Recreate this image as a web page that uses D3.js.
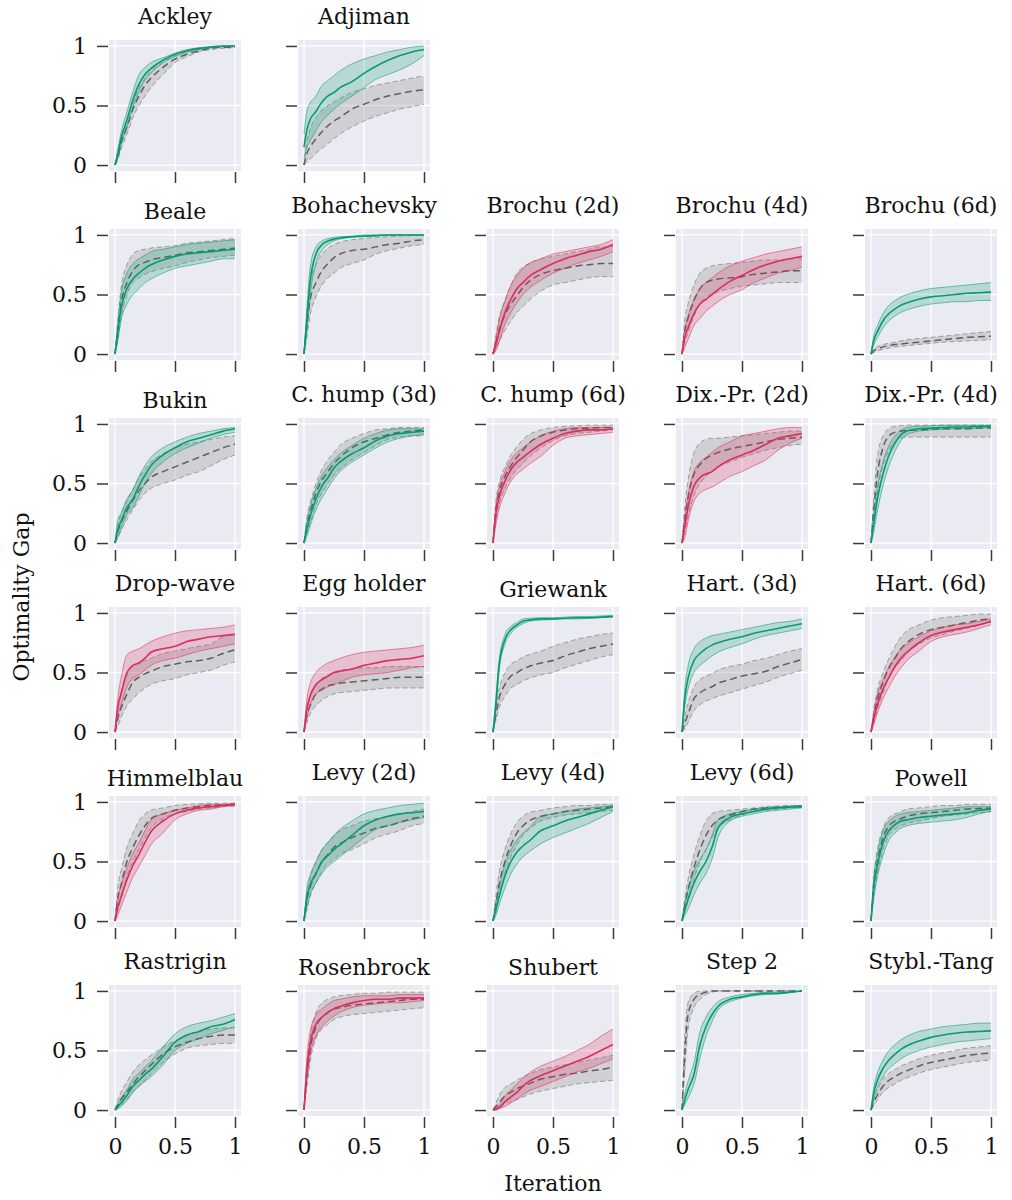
<!DOCTYPE html>
<html>
<head>
<meta charset="utf-8">
<script src="https://cdn.jsdelivr.net/npm/d3@7"></script>
<style>
  body { margin: 0; background: #fff; }
  svg text { font-family: "DejaVu Serif", serif; fill: #111; }
</style>
</head>
<body>
<script>
const iterGrid = [0, .025, .05, .1, .15, .2, .25, .3, .4, .5, .6, .7, .8, .9, 1]

const titles = ["Ackley", "Adjiman",
  "Beale", "Bohachevsky", "Brochu (2d)", "Brochu (4d)", "Brochu (6d)",
  "Bukin", "C. hump (3d)", "C. hump (6d)", "Dix.-Pr. (2d)", "Dix.-Pr. (4d)",
  "Drop-wave", "Egg holder", "Griewank", "Hart. (3d)", "Hart. (6d)",
  "Himmelblau", "Levy (2d)", "Levy (4d)", "Levy (6d)", "Powell",
  "Rastrigin", "Rosenbrock", "Shubert", "Step 2", "Stybl.-Tang"]

// g = proposed method better (green), r = worse (red)
const verdict = ["g", "g",
  "g", "g", "r", "r", "g",
  "g", "g", "r", "r", "g",
  "r", "r", "g", "g", "r",
  "r", "g", "g", "g", "g",
  "g", "r", "r", "g", "g"]

const methodMean = [
  [0, .1, .22, .38, .55, .68, .76, .81, .88, .93, .96, .98, .99, 1, 1],
  [.15, .3, .38, .45, .53, .58, .61, .65, .7, .77, .83, .88, .92, .95, .97],
  [0, .2, .38, .55, .63, .68, .72, .75, .79, .82, .84, .85, .86, .87, .88],
  [0, .3, .6, .84, .92, .95, .965, .975, .985, .99, .995, 1, 1, 1, 1],
  [0, .08, .18, .35, .46, .55, .6, .65, .71, .76, .8, .83, .86, .88, .92],
  [0, .15, .22, .34, .42, .46, .5, .54, .61, .66, .71, .75, .78, .8, .82],
  [0, .12, .18, .28, .34, .38, .41, .43, .46, .48, .49, .5, .51, .515, .52],
  [0, .12, .18, .3, .37, .48, .57, .65, .74, .8, .85, .88, .91, .94, .96],
  [0, .12, .22, .37, .48, .55, .63, .68, .75, .8, .86, .9, .92, .93, .94],
  [0, .25, .38, .52, .62, .68, .72, .76, .83, .88, .92, .94, .95, .95, .96],
  [0, .15, .3, .48, .55, .58, .6, .64, .7, .74, .78, .83, .88, .9, .92],
  [0, .18, .35, .58, .74, .84, .91, .94, .96, .965, .97, .975, .975, .98, .98],
  [0, .22, .32, .5, .56, .58, .62, .67, .7, .72, .76, .78, .8, .81, .82],
  [0, .2, .3, .4, .44, .47, .5, .51, .53, .56, .58, .6, .61, .62, .64],
  [0, .25, .55, .78, .86, .9, .93, .94, .95, .95, .955, .96, .96, .965, .97],
  [0, .3, .45, .6, .66, .7, .73, .75, .78, .8, .83, .85, .87, .89, .91],
  [0, .12, .22, .36, .46, .55, .62, .67, .75, .81, .84, .86, .88, .9, .93],
  [0, .12, .2, .35, .47, .56, .66, .75, .84, .9, .93, .95, .96, .97, .98],
  [0, .2, .3, .4, .5, .55, .6, .64, .72, .8, .85, .88, .9, .91, .92],
  [0, .1, .2, .38, .5, .58, .63, .67, .76, .8, .84, .87, .9, .93, .96],
  [0, .1, .18, .32, .42, .5, .62, .78, .87, .9, .92, .94, .95, .955, .96],
  [0, .3, .45, .66, .76, .81, .84, .85, .87, .88, .89, .9, .91, .93, .94],
  [0, .03, .06, .125, .2, .25, .3, .34, .45, .57, .63, .66, .7, .72, .76],
  [0, .35, .55, .72, .78, .82, .85, .87, .9, .92, .93, .93, .94, .94, .94],
  [0, .01, .02, .07, .11, .15, .2, .24, .29, .33, .37, .41, .45, .5, .55],
  [0, .09, .17, .3, .55, .7, .8, .87, .93, .95, .97, .98, .98, .99, 1],
  [0, .15, .24, .35, .42, .47, .51, .54, .58, .61, .63, .645, .655, .66, .665]
]
const methodLo = [
  [0, .06, .17, .32, .49, .62, .71, .77, .86, .91, .95, .97, .985, .995, 1],
  [.05, .15, .2, .29, .37, .42, .47, .51, .58, .65, .72, .76, .8, .85, .92],
  [0, .12, .28, .42, .5, .55, .6, .63, .68, .72, .74, .76, .78, .8, .8],
  [0, .2, .48, .76, .87, .92, .95, .965, .98, .985, .99, .995, 1, 1, 1],
  [0, .03, .1, .25, .35, .43, .5, .55, .62, .68, .72, .76, .79, .82, .86],
  [0, .06, .12, .24, .3, .36, .4, .44, .5, .54, .6, .64, .68, .7, .73],
  [0, .08, .13, .22, .28, .32, .35, .37, .4, .42, .43, .44, .44, .45, .45],
  [0, .05, .12, .24, .3, .4, .5, .58, .68, .75, .8, .84, .88, .91, .93],
  [0, .06, .14, .28, .38, .46, .54, .6, .68, .74, .8, .85, .88, .9, .91],
  [0, .16, .28, .42, .52, .58, .62, .66, .73, .82, .88, .9, .91, .92, .93],
  [0, .05, .18, .35, .42, .45, .47, .5, .56, .6, .65, .7, .78, .84, .88],
  [0, .1, .25, .48, .65, .77, .86, .91, .94, .95, .955, .96, .96, .965, .97],
  [0, .14, .22, .38, .45, .48, .52, .56, .6, .62, .65, .68, .7, .72, .74],
  [0, .12, .22, .32, .35, .38, .4, .42, .46, .48, .49, .5, .52, .54, .55],
  [0, .2, .5, .74, .83, .88, .91, .93, .94, .945, .95, .95, .955, .96, .965],
  [0, .22, .36, .5, .56, .6, .64, .67, .71, .74, .78, .81, .83, .85, .87],
  [0, .07, .15, .28, .38, .47, .54, .6, .68, .76, .8, .82, .84, .87, .9],
  [0, .05, .12, .25, .37, .46, .55, .64, .74, .85, .9, .93, .94, .96, .97],
  [0, .12, .22, .32, .4, .46, .5, .54, .62, .7, .77, .8, .83, .85, .87],
  [0, .05, .13, .28, .4, .48, .54, .58, .65, .7, .74, .78, .82, .87, .92],
  [0, .05, .1, .22, .32, .4, .52, .7, .84, .88, .9, .92, .93, .94, .95],
  [0, .2, .35, .55, .68, .74, .78, .8, .82, .83, .84, .85, .87, .9, .92],
  [0, .01, .03, .08, .15, .2, .24, .28, .38, .5, .56, .6, .64, .67, .7],
  [0, .25, .45, .62, .7, .75, .79, .82, .86, .88, .89, .9, .9, .91, .92],
  [0, 0, .01, .03, .06, .09, .13, .16, .2, .24, .28, .32, .35, .39, .43],
  [0, .05, .1, .22, .44, .62, .74, .84, .91, .94, .96, .97, .975, .985, 1],
  [0, .1, .18, .28, .35, .39, .43, .46, .5, .53, .55, .57, .58, .59, .6]
]
const methodHi = [
  [0, .14, .27, .45, .62, .76, .82, .86, .9, .94, .97, .985, .995, 1, 1],
  [.26, .46, .52, .58, .67, .71, .75, .79, .85, .89, .92, .95, .97, .99, 1],
  [0, .28, .5, .68, .76, .8, .83, .86, .88, .9, .92, .93, .94, .95, .96],
  [0, .4, .72, .9, .95, .97, .98, .985, .99, 1, 1, 1, 1, 1, 1],
  [0, .14, .28, .45, .58, .66, .72, .76, .8, .84, .86, .88, .9, .92, .96],
  [0, .22, .32, .46, .55, .6, .64, .68, .74, .78, .81, .84, .86, .88, .9],
  [0, .16, .23, .34, .41, .45, .48, .5, .53, .55, .56, .57, .58, .59, .6],
  [0, .2, .25, .37, .45, .56, .65, .72, .8, .85, .89, .92, .94, .96, .97],
  [0, .18, .3, .46, .57, .64, .7, .75, .82, .88, .92, .95, .96, .96, .96],
  [0, .32, .46, .6, .7, .76, .8, .84, .9, .94, .96, .97, .97, .97, .97],
  [0, .22, .4, .6, .68, .72, .76, .8, .85, .9, .92, .94, .96, .97, .97],
  [0, .25, .45, .68, .82, .9, .95, .97, .98, .985, .99, .99, .99, .99, .99],
  [0, .3, .45, .65, .68, .7, .73, .76, .8, .83, .85, .86, .87, .88, .9],
  [0, .28, .4, .5, .55, .58, .6, .62, .65, .67, .68, .69, .7, .71, .73],
  [0, .3, .6, .82, .89, .92, .95, .955, .96, .96, .965, .97, .97, .975, .98],
  [0, .38, .55, .7, .76, .79, .81, .82, .84, .86, .88, .9, .92, .93, .95],
  [0, .17, .3, .44, .55, .63, .7, .74, .8, .85, .88, .9, .91, .93, .95],
  [0, .2, .3, .45, .57, .66, .76, .85, .9, .93, .95, .97, .98, .98, .99],
  [0, .28, .38, .5, .6, .66, .72, .77, .84, .9, .93, .95, .97, .98, .99],
  [0, .15, .28, .48, .6, .68, .74, .78, .88, .9, .92, .94, .95, .96, .97],
  [0, .16, .26, .42, .52, .6, .72, .85, .9, .92, .94, .95, .96, .965, .97],
  [0, .38, .55, .76, .84, .88, .9, .91, .92, .93, .94, .95, .96, .96, .96],
  [0, .05, .1, .17, .26, .31, .36, .41, .53, .64, .7, .73, .75, .78, .81],
  [0, .45, .65, .8, .85, .89, .92, .93, .95, .96, .96, .96, .97, .97, .97],
  [0, .02, .04, .12, .17, .22, .27, .31, .37, .41, .45, .5, .55, .62, .68],
  [0, .14, .24, .4, .66, .78, .86, .91, .95, .97, .98, .99, .99, .99, 1],
  [0, .2, .3, .42, .5, .55, .59, .62, .66, .68, .7, .71, .72, .73, .73]
]

const baseMean = [
  [0, .08, .18, .32, .47, .58, .67, .73, .82, .89, .93, .96, .98, .99, .99],
  [0, .1, .15, .22, .28, .33, .37, .4, .47, .51, .55, .58, .6, .62, .63],
  [0, .22, .42, .6, .7, .75, .77, .79, .81, .83, .85, .86, .87, .88, .89],
  [0, .25, .45, .6, .7, .76, .81, .84, .87, .88, .9, .92, .93, .95, .96],
  [0, .1, .2, .33, .42, .49, .56, .61, .67, .7, .72, .74, .75, .76, .76],
  [0, .2, .3, .45, .55, .6, .62, .63, .64, .65, .67, .68, .69, .7, .7],
  [0, .03, .04, .06, .07, .08, .085, .09, .1, .11, .12, .13, .14, .145, .15],
  [0, .1, .17, .27, .36, .44, .5, .55, .6, .64, .68, .72, .76, .8, .83],
  [0, .15, .25, .42, .53, .6, .67, .72, .8, .85, .88, .91, .93, .94, .95],
  [0, .28, .42, .56, .65, .72, .78, .84, .9, .93, .95, .96, .965, .97, .97],
  [0, .22, .38, .58, .66, .71, .74, .76, .79, .81, .83, .85, .87, .88, .89],
  [0, .3, .55, .8, .9, .93, .94, .945, .95, .955, .96, .96, .96, .965, .965],
  [0, .12, .2, .32, .42, .46, .49, .51, .55, .57, .59, .6, .62, .66, .69],
  [0, .15, .22, .32, .36, .39, .4, .41, .42, .43, .44, .45, .46, .46, .46],
  [0, .15, .28, .4, .47, .5, .53, .55, .58, .6, .64, .67, .7, .72, .74],
  [0, .08, .15, .28, .33, .36, .38, .41, .44, .47, .49, .51, .55, .58, .61],
  [0, .14, .26, .42, .54, .62, .7, .75, .82, .86, .88, .9, .92, .94, .95],
  [0, .2, .3, .5, .62, .72, .8, .86, .9, .93, .95, .96, .97, .975, .98],
  [0, .18, .28, .4, .5, .56, .62, .65, .7, .74, .78, .8, .83, .86, .88],
  [0, .15, .3, .5, .64, .74, .8, .84, .88, .9, .92, .93, .94, .95, .96],
  [0, .14, .26, .45, .6, .72, .8, .85, .89, .92, .94, .95, .955, .96, .965],
  [0, .32, .48, .7, .8, .84, .86, .88, .9, .91, .92, .93, .94, .945, .95],
  [0, .05, .09, .15, .22, .28, .33, .38, .47, .53, .57, .6, .62, .63, .63],
  [0, .3, .5, .7, .78, .82, .85, .86, .88, .89, .9, .91, .92, .93, .93],
  [0, .03, .06, .12, .15, .18, .2, .22, .26, .28, .3, .31, .33, .34, .36],
  [0, .5, .8, .93, .97, .99, 1, 1, 1, 1, 1, 1, 1, 1, 1],
  [0, .07, .12, .2, .25, .28, .31, .33, .37, .4, .42, .44, .46, .47, .48]
]
const baseLo = [
  [0, .05, .13, .26, .4, .5, .58, .65, .76, .86, .91, .95, .97, .98, .985],
  [0, .03, .05, .1, .14, .18, .22, .26, .32, .37, .41, .44, .47, .49, .51],
  [0, .13, .3, .5, .6, .64, .67, .69, .72, .74, .77, .79, .81, .82, .83],
  [0, .15, .32, .48, .58, .64, .68, .72, .76, .79, .84, .87, .89, .91, .92],
  [0, .04, .1, .2, .28, .35, .4, .45, .53, .58, .6, .62, .64, .65, .65],
  [0, .1, .18, .32, .42, .48, .5, .52, .55, .57, .58, .59, .6, .6, .6],
  [0, .015, .025, .04, .05, .06, .065, .07, .08, .09, .1, .105, .11, .115, .12],
  [0, .05, .1, .2, .28, .36, .42, .46, .5, .53, .57, .6, .65, .7, .74],
  [0, .08, .16, .32, .42, .5, .57, .62, .7, .76, .82, .87, .89, .9, .9],
  [0, .2, .32, .46, .55, .62, .67, .72, .8, .86, .9, .92, .93, .94, .95],
  [0, .1, .22, .4, .5, .56, .6, .64, .68, .72, .75, .78, .8, .82, .83],
  [0, .18, .4, .65, .78, .85, .88, .89, .89, .89, .89, .89, .89, .89, .89],
  [0, .05, .12, .22, .28, .33, .37, .4, .43, .45, .48, .5, .52, .56, .59],
  [0, .08, .15, .22, .27, .3, .32, .33, .34, .35, .36, .37, .37, .37, .37],
  [0, .1, .2, .3, .37, .4, .43, .45, .48, .5, .54, .57, .6, .63, .65],
  [0, .03, .08, .18, .23, .26, .28, .3, .33, .36, .39, .42, .46, .49, .52],
  [0, .08, .18, .33, .46, .54, .6, .66, .74, .79, .82, .85, .87, .9, .92],
  [0, .1, .18, .38, .5, .6, .7, .78, .86, .9, .92, .94, .95, .96, .965],
  [0, .1, .2, .32, .42, .48, .52, .56, .6, .65, .7, .73, .76, .8, .82],
  [0, .08, .2, .4, .54, .64, .72, .77, .84, .87, .89, .9, .91, .92, .93],
  [0, .08, .17, .35, .5, .6, .7, .78, .85, .89, .92, .93, .94, .95, .955],
  [0, .24, .38, .6, .72, .77, .8, .82, .84, .86, .88, .89, .9, .91, .92],
  [0, .02, .04, .09, .15, .2, .25, .3, .4, .47, .52, .54, .55, .56, .56],
  [0, .2, .4, .6, .68, .72, .76, .78, .8, .81, .82, .83, .84, .85, .86],
  [0, 0, .01, .05, .07, .09, .11, .13, .16, .18, .2, .22, .23, .24, .25],
  [0, .35, .68, .86, .93, .97, .99, 1, 1, 1, 1, 1, 1, 1, 1],
  [0, .04, .08, .15, .19, .22, .25, .27, .31, .34, .36, .38, .4, .41, .42]
]
const baseHi = [
  [0, .12, .23, .38, .53, .65, .73, .79, .86, .92, .95, .97, .985, .995, 1],
  [0, .2, .3, .4, .46, .5, .53, .56, .61, .64, .67, .69, .71, .73, .75],
  [0, .3, .55, .75, .84, .87, .88, .89, .9, .91, .93, .94, .95, .96, .97],
  [0, .35, .6, .75, .84, .89, .92, .94, .96, .97, .98, .985, .99, .995, 1],
  [0, .16, .3, .45, .58, .68, .73, .76, .8, .82, .84, .86, .88, .9, .9],
  [0, .3, .42, .58, .68, .72, .74, .75, .76, .77, .78, .79, .79, .8, .8],
  [0, .04, .06, .08, .09, .1, .11, .12, .13, .14, .15, .16, .17, .18, .19],
  [0, .16, .24, .36, .45, .55, .62, .68, .75, .8, .83, .85, .87, .89, .9],
  [0, .22, .33, .5, .62, .7, .76, .82, .88, .92, .95, .96, .97, .97, .97],
  [0, .36, .5, .64, .74, .81, .87, .91, .95, .97, .98, .985, .99, .99, .99],
  [0, .32, .52, .76, .84, .87, .88, .88, .89, .9, .91, .92, .93, .94, .94],
  [0, .4, .7, .9, .96, .98, .985, .99, .99, .99, .99, .99, .99, .99, .99],
  [0, .2, .32, .48, .56, .58, .6, .62, .66, .68, .7, .72, .74, .8, .82],
  [0, .2, .3, .4, .45, .48, .5, .52, .53, .54, .54, .55, .55, .55, .55],
  [0, .22, .36, .5, .57, .6, .63, .65, .68, .72, .75, .78, .8, .82, .83],
  [0, .14, .24, .38, .44, .47, .49, .52, .55, .57, .6, .62, .65, .68, .7],
  [0, .2, .34, .5, .62, .72, .8, .85, .9, .94, .96, .97, .98, .99, .99],
  [0, .3, .42, .62, .74, .84, .9, .93, .95, .97, .98, .985, .99, .99, .99],
  [0, .25, .36, .5, .6, .66, .72, .76, .8, .84, .86, .88, .9, .92, .94],
  [0, .22, .4, .6, .74, .83, .88, .91, .93, .95, .96, .97, .97, .98, .98],
  [0, .2, .35, .56, .72, .84, .9, .92, .93, .94, .95, .96, .965, .97, .97],
  [0, .4, .58, .78, .87, .9, .92, .94, .95, .96, .97, .97, .98, .98, .98],
  [0, .09, .15, .24, .32, .38, .42, .46, .53, .58, .63, .66, .68, .69, .69],
  [0, .4, .6, .82, .9, .93, .95, .96, .97, .98, .98, .99, .99, .99, .99],
  [0, .06, .12, .19, .22, .25, .28, .3, .34, .36, .38, .4, .42, .44, .46],
  [0, .65, .9, .98, 1, 1, 1, 1, 1, 1, 1, 1, 1, 1, 1],
  [0, .1, .16, .26, .31, .34, .37, .39, .43, .46, .48, .5, .52, .53, .54]
]

const axisTicks = [0, 0.5, 1]

const W = 1012, H = 1200
const plotW = 132, plotH = 131
const left0 = 109, top0 = 40, step = 189
const colors = { g: "#079b74", r: "#dc2d5c" }
const serif = "'DejaVu Serif', serif"
const fs = 22

const svg = d3.select("body")
  .append("svg")
  .attr("width", W)
  .attr("height", H)
  .style("font-family", serif)

function slot(i) {
  if (i < 2) return [0, i]
  return [1 + Math.floor((i - 2) / 5), (i - 2) % 5]
}

titles.forEach((title, i) => {
  const [row, col] = slot(i)
  const x0 = left0 + col * step
  const y0 = top0 + row * step

  const x = d3.scaleLinear().domain([-0.05, 1.05]).range([x0, x0 + plotW])
  const y = d3.scaleLinear().domain([-0.05, 1.05]).range([y0 + plotH, y0])

  const g = svg.append("g")

  g.append("rect")
    .attr("x", x0).attr("y", y0)
    .attr("width", plotW).attr("height", plotH)
    .attr("fill", "#eaeaf2")

  // grid
  g.selectAll(".gx").data(axisTicks).enter().append("line")
    .attr("x1", d => x(d)).attr("x2", d => x(d))
    .attr("y1", y0).attr("y2", y0 + plotH)
    .attr("stroke", "#fff").attr("stroke-width", 1.3)
  g.selectAll(".gy").data(axisTicks).enter().append("line")
    .attr("y1", d => y(d)).attr("y2", d => y(d))
    .attr("x1", x0).attr("x2", x0 + plotW)
    .attr("stroke", "#fff").attr("stroke-width", 1.3)

  // axes
  const yAxis = d3.axisLeft(y).tickValues(axisTicks).tickSize(11).tickPadding(10)
    .tickFormat(d => col === 0 ? String(d) : "")
  const xAxis = d3.axisBottom(x).tickValues(axisTicks).tickSize(11).tickPadding(10)
    .tickFormat(d => row === 5 ? String(d) : "")

  const ya = g.append("g").attr("transform", "translate(" + (x0 - 1) + ",0)").call(yAxis)
  const xa = g.append("g").attr("transform", "translate(0," + (y0 + plotH + 1) + ")").call(xAxis)
  ;[ya, xa].forEach(a => {
    a.attr("font-family", null).attr("font-size", null)
    a.select(".domain").remove()
    a.selectAll("line").attr("stroke", "#3a3a3a").attr("stroke-width", 1.5)
    a.selectAll("text").attr("font-size", fs).attr("fill", "#111")
      .style("font-family", serif)
  })

  const pts = (arr) => arr.map((v, k) => [iterGrid[k], v])
  const line = d3.line().x(d => x(d[0])).y(d => y(d[1])).curve(d3.curveMonotoneX)
  const area = d3.area()
    .x((d, k) => x(iterGrid[k]))
    .y0(d => y(d[0])).y1(d => y(d[1]))
    .curve(d3.curveMonotoneX)

  // baseline (grey, dashed)
  g.append("path")
    .datum(baseLo[i].map((v, k) => [v, baseHi[i][k]]))
    .attr("d", area)
    .attr("fill", "#8a8a8a").attr("fill-opacity", 0.28)
  ;[baseLo[i], baseHi[i]].forEach(arr => {
    g.append("path").datum(pts(arr)).attr("d", line)
      .attr("fill", "none").attr("stroke", "#8c8c8c").attr("stroke-width", 1)
      .attr("stroke-dasharray", "5,3").attr("stroke-opacity", 0.8)
  })
  g.append("path").datum(pts(baseMean[i])).attr("d", line)
    .attr("fill", "none").attr("stroke", "#5f5f5f").attr("stroke-width", 1.5)
    .attr("stroke-dasharray", "7,4")

  // method (coloured, solid)
  const c = colors[verdict[i]]
  g.append("path")
    .datum(methodLo[i].map((v, k) => [v, methodHi[i][k]]))
    .attr("d", area)
    .attr("fill", c).attr("fill-opacity", 0.22)
  ;[methodLo[i], methodHi[i]].forEach(arr => {
    g.append("path").datum(pts(arr)).attr("d", line)
      .attr("fill", "none").attr("stroke", c).attr("stroke-width", 1)
      .attr("stroke-opacity", 0.55)
  })
  g.append("path").datum(pts(methodMean[i])).attr("d", line)
    .attr("fill", "none").attr("stroke", c).attr("stroke-width", 1.6)

  // title, positioned like a LaTeX box: descenders push it up
  const deep = /[gjpqy(),]/.test(title)
  g.append("text")
    .attr("x", x0 + plotW / 2)
    .attr("y", y0 - 10 - (deep ? 6 : 0))
    .attr("text-anchor", "middle")
    .attr("font-size", fs)
    .style("font-family", serif)
    .text(title)
})

svg.append("text")
  .attr("transform", "translate(29,597) rotate(-90)")
  .attr("text-anchor", "middle")
  .attr("font-size", fs)
  .style("font-family", serif)
  .text("Optimality Gap")

svg.append("text")
  .attr("x", left0 + 2 * step + plotW / 2)
  .attr("y", 1191)
  .attr("text-anchor", "middle")
  .attr("font-size", fs)
  .style("font-family", serif)
  .text("Iteration")
</script>
</body>
</html>
